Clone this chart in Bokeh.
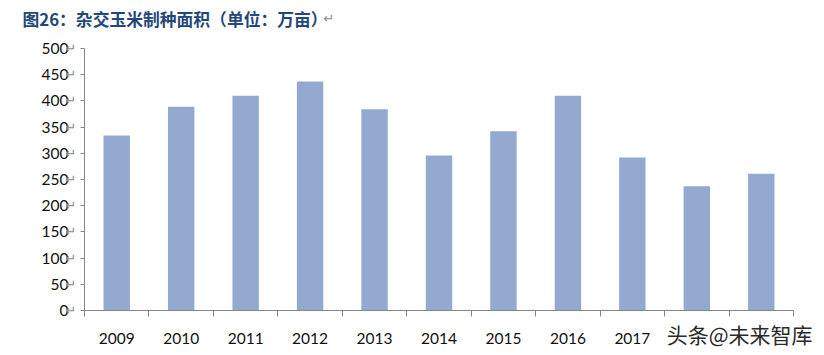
from bokeh.plotting import figure
from bokeh.models import FixedTicker, Range1d, LinearAxis, Label
from bokeh.embed import file_html
from bokeh.resources import INLINE

years = ["2009", "2010", "2011", "2012", "2013", "2014", "2015", "2016", "2017", "2018", "2019"]
area = [334, 389, 410, 437, 384, 296, 342, 410, 292, 237, 261]
y_ticks = [0, 50, 100, 150, 200, 250, 300, 350, 400, 450, 500]
hidden_labels = ["2018", "2019"]  # covered by the watermark in the source image
title_text = "图26：杂交玉米制种面积（单位：万亩）"
watermark = "头条@未来智库"

n = len(years)
centers = [i + 0.5 for i in range(n)]

W, H = 824, 355
left_px, right_px, top_px, bottom_px = 84, 793, 48, 310
xs = (right_px - left_px) / n
ys = (bottom_px - top_px) / 500.0

p = figure(x_range=Range1d(-left_px / xs, n + (W - right_px) / xs),
           y_range=Range1d(-(H - bottom_px) / ys, 500 + top_px / ys),
           width=W, height=H, output_backend="svg", toolbar_location=None,
           x_axis_location=None, y_axis_location=None, min_border=0)

p.vbar(x=centers, top=area, width=0.41, color="#93A9CF", line_color=None)

p.grid.visible = False
p.outline_line_color = None
p.background_fill_color = "white"
p.border_fill_color = "white"

ax = LinearAxis(fixed_location=0, bounds=(0, 500), ticker=FixedTicker(ticks=y_ticks))
ax.axis_line_color = "#868686"
ax.major_tick_line_color = "#868686"
ax.major_tick_out = 4
ax.major_tick_in = 0
ax.minor_tick_line_color = None
ax.major_label_standoff = 12
ax.major_label_text_font = "Lato"
ax.major_label_text_font_size = "15.5px"
ax.major_label_text_color = "#111111"
p.add_layout(ax, "left")

xa = LinearAxis(fixed_location=0, bounds=(0, n),
                ticker=FixedTicker(ticks=centers, minor_ticks=list(range(n + 1))))
xa.major_label_overrides = {c: ("" if y in hidden_labels else y) for c, y in zip(centers, years)}
xa.axis_line_color = "#868686"
xa.major_tick_line_color = None
xa.minor_tick_line_color = "#868686"
xa.minor_tick_out = 6
xa.minor_tick_in = 0
xa.major_label_standoff = 16
xa.major_label_text_font = "Lato"
xa.major_label_text_font_size = "15.5px"
xa.major_label_text_color = "#111111"
p.add_layout(xa, "below")

# paragraph marks after the y tick labels
ret = LinearAxis(fixed_location=0, ticker=FixedTicker(ticks=y_ticks),
                 major_label_overrides={v: "↵" for v in y_ticks},
                 axis_line_color=None, major_tick_line_color=None, minor_tick_line_color=None,
                 major_label_standoff=2, major_label_text_color="#8a8a8a",
                 major_label_text_font="DejaVu Sans", major_label_text_font_size="13px")
p.add_layout(ret, "left")

# title
p.add_layout(Label(x=22, y=H - 18, x_units="screen", y_units="screen", text=title_text,
                   text_color="#24477A", text_font="Noto Sans CJK SC", text_font_style="bold",
                   text_font_size="16.8px", text_align="left", text_baseline="middle"))
p.add_layout(Label(x=323, y=H - 18, x_units="screen", y_units="screen", text="↵",
                   text_color="#8a8a8a", text_font="DejaVu Sans", text_font_size="13px",
                   text_align="left", text_baseline="middle"))

# watermark
p.add_layout(Label(x=812, y=H - 333, x_units="screen", y_units="screen", text=watermark,
                   text_color="#2a2a2a", text_font="Noto Sans CJK SC",
                   text_font_size="21px", text_align="right", text_baseline="middle"))

open("out.html", "w").write(file_html(p, INLINE))
